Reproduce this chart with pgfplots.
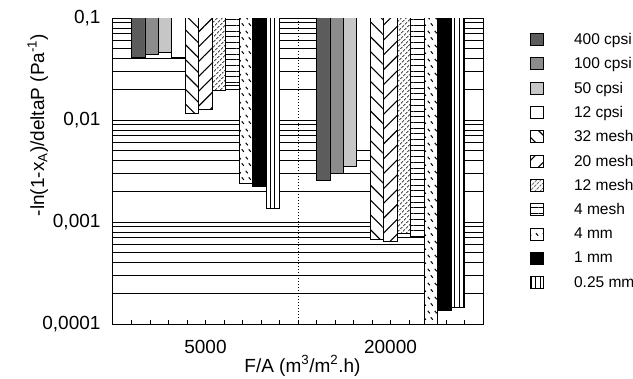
\documentclass[border=0pt]{standalone}
\usepackage{fontspec}
\setmainfont{Liberation Sans}
\usepackage{pgfplots}
\pgfplotsset{compat=1.18}
\usetikzlibrary{patterns,patterns.meta}

\definecolor{c400}{gray}{0.36}
\definecolor{c100}{gray}{0.55}
\definecolor{c50}{gray}{0.80}

% short diagonal dashes used for the 4 mm bars
\pgfdeclarepattern{
  name=shortdash,
  type=uncolored,
  bottom left={\pgfpoint{0bp}{0bp}},
  top right={\pgfpoint{7bp}{14bp}},
  tile size={\pgfpoint{7bp}{14bp}},
  code={
    \pgfsetlinewidth{1.1bp}
    \pgfpathmoveto{\pgfpoint{0.8bp}{13bp}}
    \pgfpathlineto{\pgfpoint{3.2bp}{10.4bp}}
    \pgfpathmoveto{\pgfpoint{4.3bp}{6bp}}
    \pgfpathlineto{\pgfpoint{6.7bp}{3.4bp}}
    \pgfusepath{stroke}
  }
}

\pgfplotsset{
  hbar/.style={ybar, bar width=0.72727, bar shift=0pt,
    draw=black, line width=0.9bp,
    legend image code/.code={
      \draw[##1] (0bp,-6bp) rectangle (13bp,6bp);}},
}

\begin{document}
\begin{tikzpicture}
\begin{axis}[
  at={(113bp,55bp)}, anchor=south west,
  scale only axis, width=370bp, height=306bp,
  ymode=log, ymin=1e-4, ymax=0.1,
  xmin=0, xmax=20,
  axis line style={black, line width=1bp},
  xtick={1,...,19},
  xticklabels={,,,,5000,,,,,,,,,,20000,,,,},
  extra x ticks={10}, extra x tick labels={},
  extra x tick style={grid=major, major grid style={black, dotted, line width=1bp}},
  ytick={1e-4,1e-3,1e-2,1e-1},
  yticklabels={{0,0001},{0,001},{0,01},{0,1}},
  tick pos=left,
  major tick length=4bp, minor tick length=0pt,
  tick style={black, line width=0.8bp},
  ymajorgrids=true, yminorgrids=true,
  major grid style={black, dotted, line width=1bp},
  minor grid style={black, line width=0.7bp},
  tick label style={font=\fontsize{19bp}{22bp}\selectfont},
  xticklabel style={yshift=-13bp},
  yticklabel style={xshift=-9bp},
  label style={font=\fontsize{19bp}{22bp}\selectfont},
  xlabel={F/A (m\textsuperscript{3}/m\textsuperscript{2}.h)},
  xlabel style={at={(axis description cs:0.512,0)}, anchor=north, yshift=-28bp},
  ylabel={-ln(1-x\textsubscript{A})/deltaP (Pa\textsuperscript{-1})},
  ylabel style={at={(axis description cs:-0.203,0.65)}, anchor=center, rotate=0},
  legend style={at={(axis description cs:1.127,0.951)}, anchor=north west,
    draw=none, fill=none, inner sep=0pt, row sep=11.4bp,
    nodes={inner sep=0pt},
    /tikz/every odd column/.append style={column sep=30bp},
    font=\fontsize{15.5bp}{18bp}\selectfont},
  legend cell align=left,
]
% 5000 group centred at x=5, 20000 group centred at x=15
\addplot[hbar, fill=c400] coordinates {(1.3636,0.0408) (11.3636,0.00258)};
\addplot[hbar, fill=c100] coordinates {(2.0909,0.0444) (12.0909,0.0030)};
\addplot[hbar, fill=c50, postaction={pattern={Dots[distance=2bp,radius=0.45bp]}, pattern color=black!45}]
  coordinates {(2.8182,0.0457) (12.8182,0.00348)};
\addplot[hbar, fill=white] coordinates {(3.5455,0.041) (13.5455,0.0050)};
\addplot[hbar, fill=white, postaction={pattern={Lines[angle=-45,distance=10.5bp,line width=1.1bp]}}]
  coordinates {(4.2727,0.0117) (14.2727,0.000667)};
\addplot[hbar, fill=white, postaction={pattern={Lines[angle=45,distance=10.5bp,line width=1.1bp]}}]
  coordinates {(5.0,0.0127) (15.0,0.00064)};
\addplot[hbar, fill=white, postaction={pattern={Lines[angle=45,distance=3.6bp,line width=0.9bp]}}]
  coordinates {(5.7273,0.0197) (15.7273,0.00078)};
\addplot[hbar, fill=white, postaction={pattern={Lines[angle=0,distance=5.7bp,line width=1bp]}}]
  coordinates {(6.4545,0.022) (16.4545,0.00073)};
\addplot[hbar, fill=white, postaction={pattern=shortdash}]
  coordinates {(7.1818,0.00239) (17.1818,0.0001)};
\addplot[hbar, fill=black] coordinates {(7.9091,0.00225) (17.9091,0.000137)};
\addplot[hbar, fill=white, postaction={pattern={Lines[angle=90,distance=4.5bp,line width=1bp]}}]
  coordinates {(8.6364,0.00136) (18.6364,0.000144)};
\legend{400 cpsi,100 cpsi,50 cpsi,12 cpsi,32 mesh,20 mesh,12 mesh,4 mesh,4 mm,1 mm,0.25 mm}
\end{axis}
\pgfresetboundingbox
\path[use as bounding box] (0bp,0bp) rectangle (633bp,379bp);
\end{tikzpicture}
\end{document}
